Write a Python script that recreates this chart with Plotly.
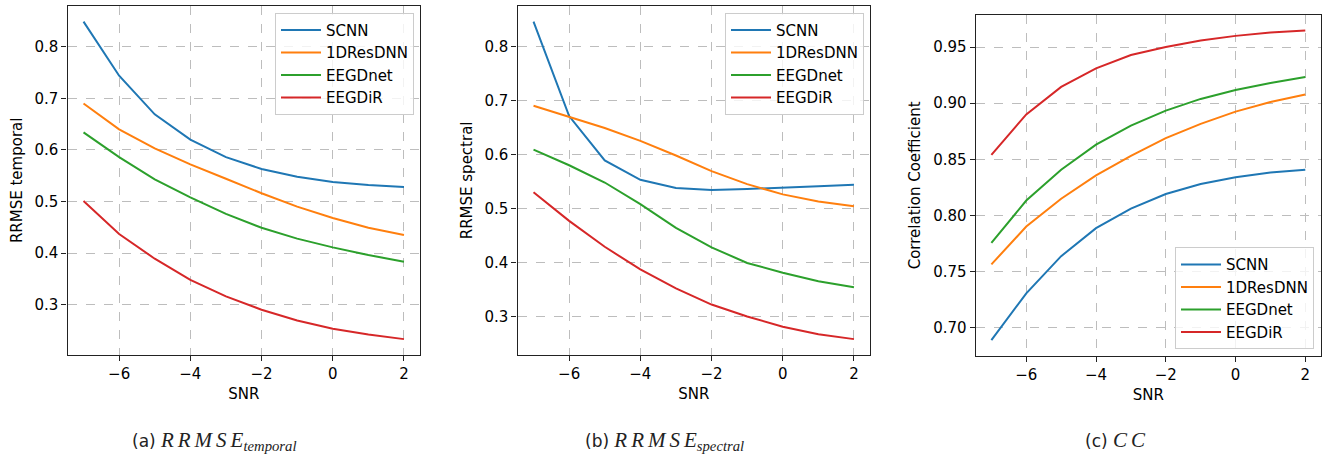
import plotly.graph_objects as go

snr = [-7, -6, -5, -4, -3, -2, -1, 0, 1, 2]
models = ["SCNN", "1DResDNN", "EEGDnet", "EEGDiR"]
colors = ["#1f77b4", "#ff7f0e", "#2ca02c", "#d62728"]

# (a) RRMSE temporal
temporal_scnn = [0.849, 0.744, 0.669, 0.620, 0.586, 0.563, 0.548, 0.538, 0.532, 0.528]
temporal_1dres = [0.690, 0.640, 0.603, 0.572, 0.544, 0.516, 0.490, 0.468, 0.449, 0.435]
temporal_eegdnet = [0.634, 0.586, 0.543, 0.508, 0.476, 0.449, 0.428, 0.411, 0.396, 0.383]
temporal_eegdir = [0.501, 0.437, 0.389, 0.348, 0.316, 0.290, 0.269, 0.253, 0.242, 0.233]

# (b) RRMSE spectral
spectral_scnn = [0.847, 0.672, 0.590, 0.554, 0.539, 0.535, 0.537, 0.539, 0.542, 0.545]
spectral_1dres = [0.691, 0.671, 0.650, 0.626, 0.599, 0.570, 0.546, 0.527, 0.514, 0.505]
spectral_eegdnet = [0.610, 0.581, 0.549, 0.509, 0.465, 0.429, 0.400, 0.382, 0.366, 0.355]
spectral_eegdir = [0.531, 0.478, 0.430, 0.388, 0.353, 0.323, 0.301, 0.282, 0.268, 0.259]

# (c) Correlation coefficient
cc_scnn = [0.6887, 0.7305, 0.7636, 0.7886, 0.806, 0.819, 0.828, 0.834, 0.8383, 0.8407]
cc_1dres = [0.7563, 0.790, 0.8148, 0.8357, 0.853, 0.8688, 0.8816, 0.8925, 0.901, 0.9077]
cc_eegdnet = [0.7755, 0.8132, 0.8407, 0.8630, 0.880, 0.8934, 0.9038, 0.9118, 0.918, 0.9233]
cc_eegdir = [0.854, 0.890, 0.9145, 0.931, 0.9429, 0.950, 0.9559, 0.960, 0.963, 0.9648]

SANS = "DejaVu Sans"
SERIF = "Liberation Serif"


def caption(tag, main, sub=None):
    s = (f"<span style=\"font-family:'{SANS}';font-size:17px\">({tag})</span> "
         f"<span style=\"letter-spacing:4px\"><i>{main[:-1]}</i></span><i>{main[-1]}</i>")
    if sub:
        s += f"<sub><i>{sub}</i></sub>"
    return s


panels = [
    dict(series=[temporal_scnn, temporal_1dres, temporal_eegdnet, temporal_eegdir],
         ytitle="RRMSE temporal", yticks=[0.3, 0.4, 0.5, 0.6, 0.7, 0.8], yfmt=".1f",
         caption=caption("a", "RRMSE", "temporal")),
    dict(series=[spectral_scnn, spectral_1dres, spectral_eegdnet, spectral_eegdir],
         ytitle="RRMSE spectral", yticks=[0.3, 0.4, 0.5, 0.6, 0.7, 0.8], yfmt=".1f",
         caption=caption("b", "RRMSE", "spectral")),
    dict(series=[cc_scnn, cc_1dres, cc_eegdnet, cc_eegdir],
         ytitle="Correlation Coefficient", yticks=[0.70, 0.75, 0.80, 0.85, 0.90, 0.95], yfmt=".2f",
         caption=caption("c", "CC")),
]

W, H = 1333, 454
# pixel boxes of the plot areas: (left, right, top, bottom)
boxes = [(67.5, 420, 5.7, 355), (517.5, 870, 5.7, 355), (975.7, 1321, 15, 355.7)]
caption_x = [214, 664, 1115]
legend_pos = [
    dict(x=414 / W, y=1 - 12.7 / H, xanchor="right", yanchor="top"),
    dict(x=864 / W, y=1 - 12.7 / H, xanchor="right", yanchor="top"),
    dict(x=1314 / W, y=1 - 349.3 / H, xanchor="right", yanchor="bottom"),
]

fig = go.Figure()
layout = dict(width=W, height=H, margin=dict(l=0, r=0, t=0, b=0),
              paper_bgcolor="white", plot_bgcolor="white",
              font=dict(family=SANS, size=15, color="black"), annotations=[])

xmin, xmax = min(snr), max(snr)
xpad = (xmax - xmin) * 0.05

for i, p in enumerate(panels):
    n = "" if i == 0 else str(i + 1)
    leg = "legend" if i == 0 else f"legend{i + 1}"
    for name, vals, col in zip(models, p["series"], colors):
        fig.add_trace(go.Scatter(x=snr, y=vals, mode="lines", name=name,
                                 line=dict(color=col, width=2),
                                 xaxis="x" + n, yaxis="y" + n, legend=leg))
    allv = [v for s in p["series"] for v in s]
    lo, hi = min(allv), max(allv)
    ypad = (hi - lo) * 0.05
    l, r, t, b = boxes[i]
    axstyle = dict(showline=True, linecolor="#222222", linewidth=1.2, mirror=True,
                   ticks="outside", ticklen=5, tickwidth=1.1, tickcolor="#222222",
                   showgrid=True, gridcolor="#bdbdbd", griddash="dash", gridwidth=1,
                   zeroline=False, tickfont=dict(family=SANS, size=15, color="black"))
    layout["xaxis" + n] = dict(domain=[l / W, r / W], anchor="y" + n,
                               range=[xmin - xpad, xmax + xpad],
                               tickvals=[-6, -4, -2, 0, 2],
                               title=dict(text="SNR", standoff=6,
                                          font=dict(family=SANS, size=15)),
                               **axstyle)
    layout["yaxis" + n] = dict(domain=[1 - b / H, 1 - t / H], anchor="x" + n,
                               range=[lo - ypad, hi + ypad],
                               tickvals=p["yticks"], tickformat=p["yfmt"],
                               title=dict(text=p["ytitle"], standoff=8,
                                          font=dict(family=SANS, size=15)),
                               **axstyle)
    layout[leg] = dict(bgcolor="rgba(255,255,255,0.8)", bordercolor="#cccccc",
                       borderwidth=1, itemwidth=40,
                       font=dict(family=SANS, size=15, color="black"),
                       **legend_pos[i])
    layout["annotations"].append(dict(
        text=p["caption"], x=caption_x[i] / W, y=1 - 426 / H, xref="paper", yref="paper",
        xanchor="center", yanchor="top", showarrow=False,
        font=dict(family=SERIF, size=21, color="#222222")))

fig.update_layout(**layout)
fig.update_layout(showlegend=True)
fig.write_html("out.html", config={"displayModeBar": False},
               post_script="document.body.style.margin='0px';document.body.style.overflow='hidden';")
